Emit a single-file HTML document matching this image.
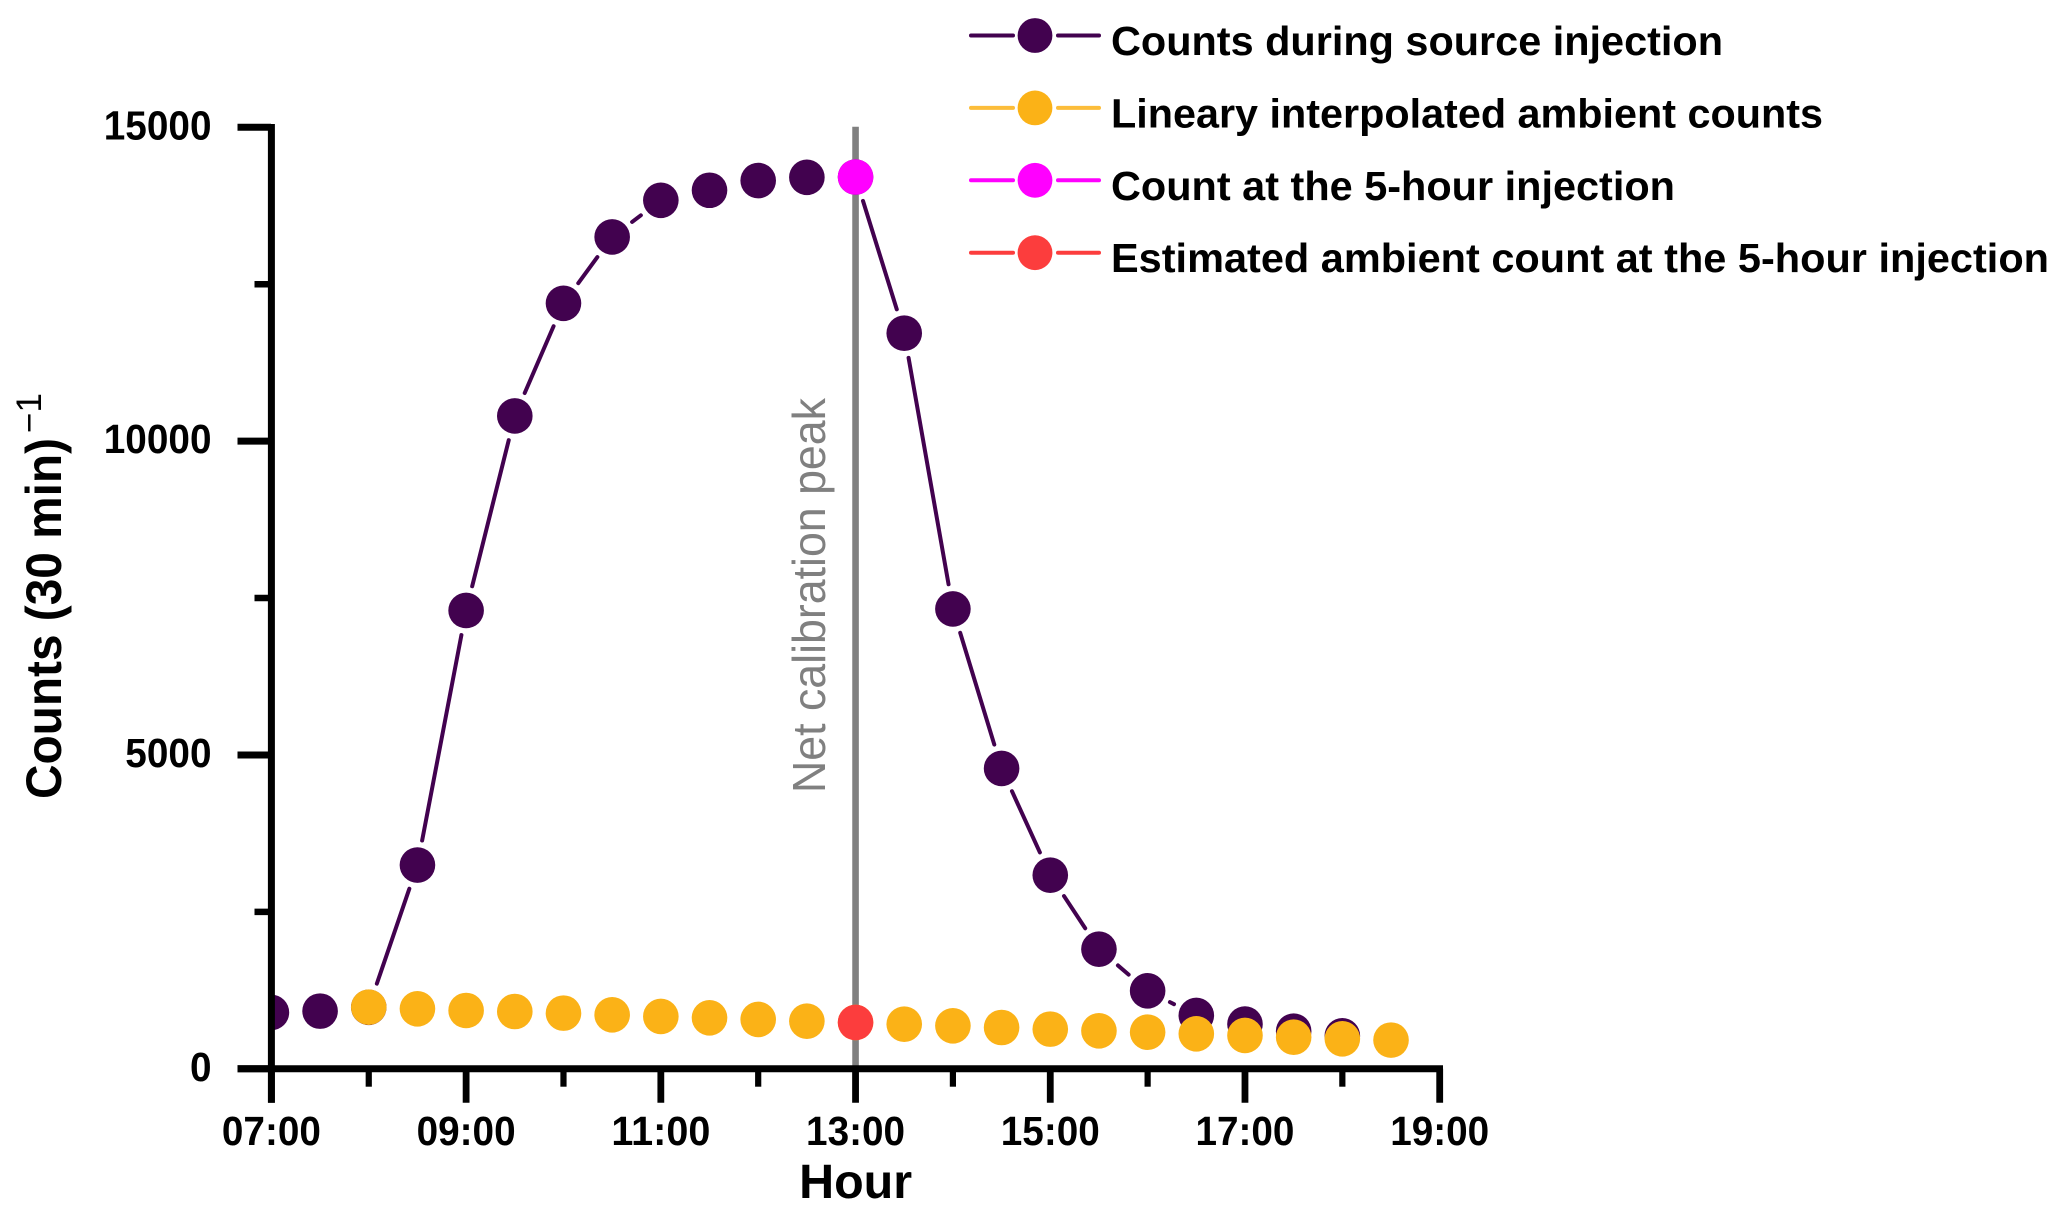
<!DOCTYPE html>
<html lang="en">
<head>
<meta charset="utf-8">
<title>Counts during source injection</title>
<style>
html,body{margin:0;padding:0;background:#fff;width:2067px;height:1217px;overflow:hidden}
svg{display:block}
text{font-family:"Liberation Sans",Arial,sans-serif}
</style>
</head>
<body>
<svg id="chart" xmlns="http://www.w3.org/2000/svg" width="2067" height="1217" viewBox="0 0 2067 1217">
  <rect x="0" y="0" width="2067" height="1217" fill="#ffffff"/>
  <defs><clipPath id="plot-clip"><rect x="271" y="0" width="1796" height="1217"/></clipPath></defs>
  <g id="peak-layer"></g>
  <g id="series-layer" clip-path="url(#plot-clip)"></g>
  <g id="axis-layer"></g>
  <text x="855.6" y="1198" text-anchor="middle" font-size="48" font-weight="700" fill="#000" textLength="113" lengthAdjust="spacingAndGlyphs">Hour</text>
  <text transform="translate(61,799) rotate(-90)" font-size="50" font-weight="700" fill="#000" textLength="361" lengthAdjust="spacingAndGlyphs">Counts (30 min)</text>
  <text transform="translate(41,433) rotate(-90)" font-size="35" font-weight="400" fill="#000">−1</text>
  <g id="legend-layer"></g>
</svg>
<script>
// Categories (decimal hours of day)
var hoursDuring = [7,7.5,8,8.5,9,9.5,10,10.5,11,11.5,12,12.5,13,13.5,14,14.5,15,15.5,16,16.5,17,17.5,18];
var hoursAmbient = [8,8.5,9,9.5,10,10.5,11,11.5,12,12.5,13,13.5,14,14.5,15,15.5,16,16.5,17,17.5,18,18.5];
// Series values (counts per 30 min)
var countsDuring = [898,919,980,3246,7302,10401,12196,13253,13837,13997,14151,14203,14208,11719,7327,4785,3085,1906,1242,850,712,600,525];
var countsAmbient = [982,956,929,913,887,860,834,812,786,759,738,711,685,658,632,605,584,557,531,504,478,457];
var peakHour = [13];
var peakCount = [14208];
var peakAmbientCount = [738];
// Tick values and labels
var xMajorTicks = [7,9,11,13,15,17,19];
var xMajorLabels = ["07:00","09:00","11:00","13:00","15:00","17:00","19:00"];
var xMinorTicks = [8,10,12,14,16,18];
var yMajorTicks = [0,5000,10000,15000];
var yMajorLabels = ["0","5000","10000","15000"];
var yMinorTicks = [2500,7500,12500];
var legendLabels = ["Counts during source injection","Lineary interpolated ambient counts","Count at the 5-hour injection","Estimated ambient count at the 5-hour injection"];
var legendColors = ["#42024f","#fbb217","#ff00ff","#fc3d3d"];
var legendWidths = [612,712,564,938];
var peakLabel = ["Net calibration peak"];

var NS = "http://www.w3.org/2000/svg";
function xScale(h){ return 271.4 + (h - 7) * (1439.7 - 271.4) / 12; }
function yScale(v){ return 1068.8 - v * (1068.8 - 127.3) / 15000; }
function make(tag, parent, attrs){
  var el = document.createElementNS(NS, tag);
  for (var k in attrs) el.setAttribute(k, attrs[k]);
  parent.appendChild(el);
  return el;
}
var R = 17.8, GAP = 25;
var seriesLayer = document.getElementById("series-layer");
var axisLayer = document.getElementById("axis-layer");
var peakLayer = document.getElementById("peak-layer");
var legendLayer = document.getElementById("legend-layer");

function drawSegments(hours, values, color, name){
  for (var i = 0; i < hours.length - 1; i++){
    var x1 = xScale(hours[i]), y1 = yScale(values[i]), x2 = xScale(hours[i+1]), y2 = yScale(values[i+1]);
    var d = Math.hypot(x2 - x1, y2 - y1);
    if (d <= 2 * GAP) continue;
    var ux = (x2 - x1) / d, uy = (y2 - y1) / d;
    var seg = make("line", seriesLayer, {x1:x1+ux*GAP, y1:y1+uy*GAP, x2:x2-ux*GAP, y2:y2-uy*GAP, stroke:color, "stroke-width":4, "stroke-linecap":"round"});
    
    
  }
}
function drawPoints(hours, values, color, name){
  for (var i = 0; i < hours.length; i++){
    var c = make("circle", seriesLayer, {cx:xScale(hours[i]), cy:yScale(values[i]), r:R, fill:color});
    
    
  }
}

// Peak line and label
var peakLine = make("line", peakLayer, {x1:xScale(peakHour[0]), x2:xScale(peakHour[0]), y1:yScale(15000)-0.5, y2:yScale(0), stroke:"#808080", "stroke-width":6.6});


var peakText = make("text", peakLayer, {transform:"translate(" + (xScale(peakHour[0]) - 30.5) + ",793) rotate(-90)", "font-size":46, fill:"#808080", textLength:395, lengthAdjust:"spacingAndGlyphs"});
peakText.textContent = peakLabel[0];



// Series
drawSegments(hoursDuring, countsDuring, legendColors[0], "counts-during");
drawSegments(hoursAmbient, countsAmbient, legendColors[1], "ambient");
drawPoints(hoursDuring, countsDuring, legendColors[0], "counts-during");
drawPoints(hoursAmbient, countsAmbient, legendColors[1], "ambient");
drawPoints(peakHour, peakCount, legendColors[2], "peak-count");
drawPoints(peakHour, peakAmbientCount, legendColors[3], "peak-ambient");

// Axes
var yAxisLine = make("line", axisLayer, {x1:271.4, x2:271.4, y1:124, y2:1102.7, stroke:"#000", "stroke-width":7});


var xAxisLine = make("line", axisLayer, {x1:237.5, x2:1443, y1:1068.8, y2:1068.8, stroke:"#000", "stroke-width":7});


yMajorTicks.forEach(function(v, i){
  var y = yScale(v);
  var t = make("line", axisLayer, {x1:237.5, x2:271, y1:y, y2:y, stroke:"#000", "stroke-width":7});
  
  
  var l = make("text", axisLayer, {x:211.5, y:y+12, "text-anchor":"end", "font-size":40.5, "font-weight":700, fill:"#000", textLength:yMajorLabels[i].length*21.55, lengthAdjust:"spacingAndGlyphs"});
  l.textContent = yMajorLabels[i];
  
  
});
yMinorTicks.forEach(function(v){
  var y = yScale(v);
  var t = make("line", axisLayer, {x1:254.5, x2:271, y1:y, y2:y, stroke:"#000", "stroke-width":6.5});
  
  
});
xMajorTicks.forEach(function(h, i){
  var x = xScale(h);
  var t = make("line", axisLayer, {x1:x, x2:x, y1:1068.8, y2:1102.7, stroke:"#000", "stroke-width":6.8});
  
  
  var l = make("text", axisLayer, {x:x, y:1145, "text-anchor":"middle", "font-size":40.5, "font-weight":700, fill:"#000", textLength:99, lengthAdjust:"spacingAndGlyphs"});
  l.textContent = xMajorLabels[i];
  
  
});
xMinorTicks.forEach(function(h){
  var x = xScale(h);
  var t = make("line", axisLayer, {x1:x, x2:x, y1:1068.8, y2:1086.7, stroke:"#000", "stroke-width":6.2});
  
  
});

// Legend
legendLabels.forEach(function(label, i){
  var y = 35.5 + i * 72.4;
  var g = make("g", legendLayer, {});
  
  
  var a = make("line", g, {x1:971, x2:1013, y1:y, y2:y, stroke:legendColors[i], "stroke-width":4, "stroke-linecap":"round", "stroke-opacity":i === 1 ? 0.85 : 1});
  
  
  var b = make("line", g, {x1:1058, x2:1099, y1:y, y2:y, stroke:legendColors[i], "stroke-width":4, "stroke-linecap":"round", "stroke-opacity":i === 1 ? 0.85 : 1});
  
  
  var c = make("circle", g, {cx:1035, cy:y, r:17.4, fill:legendColors[i]});
  
  
  var t = make("text", g, {x:1111, y:y+19.5, "font-size":41, "font-weight":700, fill:"#000", textLength:legendWidths[i], lengthAdjust:"spacingAndGlyphs"});
  t.textContent = label;
  
  
});
</script>
</body>
</html>
